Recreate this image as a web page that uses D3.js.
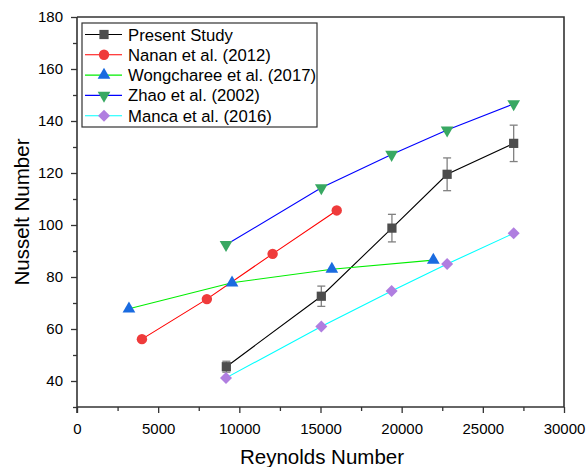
<!DOCTYPE html>
<html>
<head>
<meta charset="utf-8">
<script src="https://cdn.jsdelivr.net/npm/d3@7"></script>
<style>
  body { margin: 0; background: #fff; }
  text { font-family: "Liberation Sans", Arial, sans-serif; fill: #000; }
</style>
</head>
<body>
<svg id="svg" width="586" height="467"></svg>
<script>
// data
const seriesNames = ["Present Study", "Nanan et al. (2012)", "Wongcharee et al. (2017)", "Zhao et al. (2002)", "Manca et al. (2016)"];

const presentRe = [9200, 15050, 19400, 22800, 26900];
const presentNu = [45.5, 72.6, 98.8, 119.5, 131.4];
const presentErr = [2.1, 3.9, 5.3, 6.3, 7.0];

const nananRe = [4000, 8000, 12050, 16000];
const nananNu = [56.1, 71.5, 88.9, 105.6];

const wongRe = [3200, 9550, 15700, 21950];
const wongNu = [67.8, 77.8, 83.0, 86.5];

const zhaoRe = [9180, 15050, 19380, 22800, 26900];
const zhaoNu = [92.4, 114.3, 127.1, 136.5, 146.6];

const mancaRe = [9180, 15050, 19380, 22800, 26900];
const mancaNu = [41.2, 61.0, 74.6, 85.0, 96.8];

const xTicks = [0, 5000, 10000, 15000, 20000, 25000, 30000];
const yTicks = [40, 60, 80, 100, 120, 140, 160, 180];

const svg = d3.select("#svg");
const pLeft = 77, pRight = 564, pTop = 17, pBottom = 407;

const x = d3.scaleLinear().domain([0, 30000]).range([pLeft, pRight]);
const y = d3.scaleLinear().domain([30, 180]).range([pBottom, pTop]);

const zip = (a, b) => a.map((v, i) => [v, b[i]]);

const series = [
  {name: seriesNames[0], pts: zip(presentRe, presentNu), line: "#000000", fill: "#4d4d4d", sym: d3.symbolSquare, size: 85, rot: 0},
  {name: seriesNames[1], pts: zip(nananRe, nananNu), line: "#ff0000", fill: "#ef3b3b", sym: d3.symbolCircle, size: 85, rot: 0},
  {name: seriesNames[2], pts: zip(wongRe, wongNu), line: "#00ee00", fill: "#1a6be0", sym: d3.symbolTriangle, size: 70, rot: 0},
  {name: seriesNames[3], pts: zip(zhaoRe, zhaoNu), line: "#0000ff", fill: "#38a862", sym: d3.symbolTriangle, size: 70, rot: 180},
  {name: seriesNames[4], pts: zip(mancaRe, mancaNu), line: "#00ffff", fill: "#b07ee0", sym: d3.symbolSquare, size: 72, rot: 45}
];

// frame top/right
svg.append("path")
  .attr("d", `M${pLeft},${pTop}H${pRight}V${pBottom}`)
  .attr("fill", "none").attr("stroke", "#333").attr("stroke-width", 1.6);

// minor ticks
const gx = svg.append("g").attr("transform", `translate(0,${pBottom})`);
gx.call(d3.axisBottom(x).tickValues(d3.range(2500, 30000, 5000)).tickSize(4).tickFormat(""));
const gy = svg.append("g").attr("transform", `translate(${pLeft},0)`);
gy.call(d3.axisLeft(y).tickValues(d3.range(30, 180, 20)).tickSize(4).tickFormat(""));

// major axes
const xAxis = svg.append("g").attr("transform", `translate(0,${pBottom})`)
  .call(d3.axisBottom(x).tickValues(xTicks).tickFormat(d3.format("d"))
    .tickSize(6).tickSizeOuter(0).tickPadding(10));
const yAxis = svg.append("g").attr("transform", `translate(${pLeft},0)`)
  .call(d3.axisLeft(y).tickValues(yTicks).tickFormat(d3.format("d"))
    .tickSize(6).tickSizeOuter(0).tickPadding(8));

[gx, gy, xAxis, yAxis].forEach(g => {
  g.selectAll("path.domain").attr("stroke", "#333").attr("stroke-width", 1.6);
  g.selectAll(".tick line").attr("stroke", "#333").attr("stroke-width", 1.3);
  g.selectAll("text").style("font-size", "15px").attr("fill", "#000")
    .style("font-family", "Liberation Sans, Arial, sans-serif");
});
gx.select("path.domain").remove();
gy.select("path.domain").remove();
yAxis.select("path.domain").attr("d", `M0,${pTop}V${pBottom + 6}`);
xAxis.select("path.domain").attr("d", `M${pLeft},0H${pRight}`);

// axis titles
svg.append("text").attr("x", 322).attr("y", 464)
  .attr("text-anchor", "middle").style("font-size", "20.5px").text("Reynolds Number");
svg.append("text").attr("transform", `translate(22,${(pTop + pBottom) / 2}) rotate(-90)`)
  .attr("text-anchor", "middle").attr("dy", "0.35em").style("font-size", "20.5px").text("Nusselt Number");

// lines
const line = d3.line().x(d => x(d[0])).y(d => y(d[1]));
series.forEach(s => {
  svg.append("path").datum(s.pts).attr("d", line)
    .attr("fill", "none").attr("stroke", s.line).attr("stroke-width", 1.1);
});

// error bars for present study
const eb = svg.append("g").attr("stroke", "#808080").attr("stroke-width", 1.3);
presentRe.forEach((re, i) => {
  const cx = x(re), y1 = y(presentNu[i] - presentErr[i]), y2 = y(presentNu[i] + presentErr[i]);
  eb.append("line").attr("x1", cx).attr("x2", cx).attr("y1", y1).attr("y2", y2);
  eb.append("line").attr("x1", cx - 4).attr("x2", cx + 4).attr("y1", y1).attr("y2", y1);
  eb.append("line").attr("x1", cx - 4).attr("x2", cx + 4).attr("y1", y2).attr("y2", y2);
});

// markers
series.forEach(s => {
  svg.append("g").selectAll("path").data(s.pts).enter().append("path")
    .attr("d", d3.symbol().type(s.sym).size(s.size))
    .attr("transform", d => `translate(${x(d[0])},${y(d[1])}) rotate(${s.rot})`)
    .attr("fill", s.fill);
});

// legend
const lg = svg.append("g");
lg.append("rect").attr("x", 82).attr("y", 23).attr("width", 235).attr("height", 104)
  .attr("fill", "#fff").attr("stroke", "#333").attr("stroke-width", 1.2);
series.forEach((s, i) => {
  const ly = 34.5 + i * 20.3;
  lg.append("line").attr("x1", 85).attr("x2", 122).attr("y1", ly).attr("y2", ly)
    .attr("stroke", s.line).attr("stroke-width", 1.1);
  lg.append("path").attr("d", d3.symbol().type(s.sym).size(s.size))
    .attr("transform", `translate(104,${ly}) rotate(${s.rot})`).attr("fill", s.fill);
  lg.append("text").attr("x", 128).attr("y", ly).attr("dy", "0.36em")
    .style("font-size", "16.7px").text(s.name);
});
</script>
</body>
</html>
